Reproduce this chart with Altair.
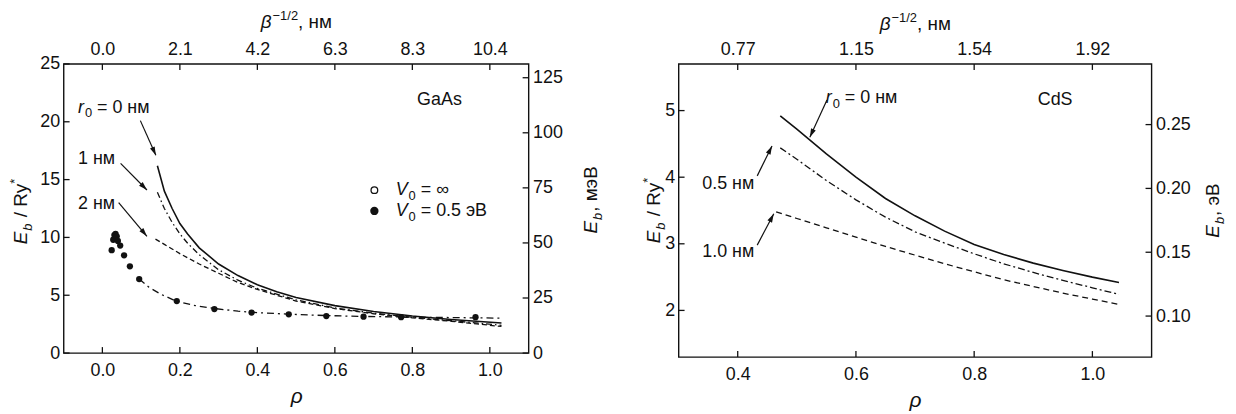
import math
import json
import altair as alt
import pandas as pd

FONT = "Liberation Sans"
INK = "#111111"
FS = 18
FS_T = 19
FS_S = 13

# ===================== data =====================
# GaAs panel (x = rho, y = E_b / Ry*)
gaas_r0_rho = [0.142, 0.16, 0.18, 0.20, 0.22, 0.25, 0.30, 0.35, 0.40, 0.45, 0.50, 0.60, 0.70, 0.80, 0.90, 1.03]
gaas_r0_eb = [16.2, 14.0, 12.5, 11.2, 10.3, 9.1, 7.7, 6.7, 5.9, 5.3, 4.8, 4.1, 3.6, 3.2, 2.9, 2.6]
gaas_r1_rho = [0.142, 0.16, 0.18, 0.20, 0.22, 0.25, 0.30, 0.35, 0.40, 0.50, 0.60, 0.70, 0.80, 0.90, 1.03]
gaas_r1_eb = [13.9, 12.5, 11.3, 10.3, 9.5, 8.5, 7.2, 6.3, 5.6, 4.6, 3.9, 3.45, 3.1, 2.8, 2.4]
gaas_r2_rho = [0.137, 0.16, 0.20, 0.25, 0.30, 0.35, 0.40, 0.50, 0.60, 0.70, 0.80, 0.90, 1.03]
gaas_r2_eb = [9.85, 9.4, 8.6, 7.7, 6.9, 6.1, 5.5, 4.5, 3.85, 3.4, 3.05, 2.75, 2.3]
gaas_dot_rho = [0.024, 0.028, 0.031, 0.034, 0.037, 0.040, 0.046, 0.056, 0.071, 0.095,
                0.192, 0.289, 0.385, 0.481, 0.578, 0.674, 0.771, 0.963]
gaas_dot_eb = [8.9, 9.8, 10.2, 10.3, 10.1, 9.7, 9.3, 8.45, 7.5, 6.4,
               4.5, 3.8, 3.5, 3.35, 3.2, 3.15, 3.1, 3.1]
gaas_fit_rho = [0.095, 0.12, 0.15, 0.19, 0.24, 0.29, 0.35, 0.40, 0.48, 0.58, 0.67, 0.77, 0.90, 1.03]
gaas_fit_eb = [6.4, 5.7, 5.1, 4.5, 4.1, 3.85, 3.62, 3.5, 3.36, 3.24, 3.17, 3.12, 3.07, 3.02]

# CdS panel
cds_r0_rho = [0.472, 0.50, 0.55, 0.60, 0.65, 0.70, 0.75, 0.80, 0.85, 0.90, 0.95, 1.00, 1.045]
cds_r0_eb = [4.92, 4.72, 4.35, 4.0, 3.68, 3.42, 3.19, 2.99, 2.84, 2.71, 2.60, 2.50, 2.42]
cds_r05_rho = [0.472, 0.50, 0.55, 0.60, 0.65, 0.70, 0.75, 0.80, 0.85, 0.90, 0.95, 1.00, 1.045]
cds_r05_eb = [4.44, 4.27, 3.95, 3.66, 3.40, 3.18, 3.01, 2.85, 2.70, 2.57, 2.45, 2.34, 2.24]
cds_r10_rho = [0.465, 0.50, 0.55, 0.60, 0.65, 0.70, 0.75, 0.80, 0.85, 0.90, 0.95, 1.00, 1.045]
cds_r10_eb = [3.48, 3.38, 3.24, 3.10, 2.96, 2.83, 2.70, 2.58, 2.46, 2.36, 2.26, 2.17, 2.09]

# ticks / labels
gaas_x_ticks = [0.0, 0.2, 0.4, 0.6, 0.8, 1.0]
gaas_top_labels = ["0.0", "2.1", "4.2", "6.3", "8.3", "10.4"]
gaas_y_ticks = [0, 5, 10, 15, 20, 25]
gaas_mev_ticks = [0, 25, 50, 75, 100, 125]
cds_x_ticks = [0.4, 0.6, 0.8, 1.0]
cds_top_labels = ["0.77", "1.15", "1.54", "1.92"]
cds_y_ticks = [2, 3, 4, 5]
cds_ev_ticks = [0.10, 0.15, 0.20, 0.25]

# ===================== helpers =====================
EM = {" ": 0.278, ".": 0.278, ",": 0.278, "/": 0.278, "=": 0.584, "−": 0.584,
      "*": 0.389, "∞": 0.713, "E": 0.667, "R": 0.722, "V": 0.667, "b": 0.556, "y": 0.5,
      "r": 0.333, "β": 0.575, "н": 0.545, "м": 0.667, "э": 0.51, "В": 0.667}


def tw(s, fs):
    return sum(EM.get(c, 0.556) for c in s) * fs


def lead(s):
    """split leading spaces (they are trimmed by the renderer) into an offset"""
    body = s.lstrip(" ")
    return body, len(s) - len(body)


ONE = pd.DataFrame({"k": [0]})
ARROW = "M0,0L0.3,1L-0.3,1Z"


def text_layers(pieces, enc, align, baseline, angle=0):
    out = []
    off = 0.0
    for txt, fs, it, dy in pieces:
        body, nsp = lead(txt)
        off += nsp * 0.278 * fs
        kw = dict(text=body, font=FONT, fontSize=fs, fontStyle="italic" if it else "normal",
                  align=align, baseline=baseline, color=INK)
        if angle:
            kw["angle"] = angle
        if off:
            kw["dx"] = round(off, 1)
        if dy:
            kw["dy"] = dy
        out.append(enc(alt.Chart(enc.data).mark_text(**kw)))
        off += tw(body, fs) + (1 if it else 0)
    return out


def build_panel(W, H, xdom, ydom, y2dom, xticks, yticks, y2ticks, yfmt, y2fmt, top_labels,
                top_first, curves, dots, texts, arrows, titles):
    xs = alt.Scale(domain=xdom, nice=False, zero=False)
    ys = alt.Scale(domain=ydom, nice=False, zero=False)
    xaxis = alt.Axis(values=xticks, format=".1f", title="ρ", titleFontStyle="italic",
                     titleFontSize=21, titleFontWeight="normal", titlePadding=6,
                     labelPadding=9, labelFlush=False)
    yaxis = alt.Axis(values=yticks, format=yfmt, title=None, labelPadding=4, labelFlush=False)

    def X(f):
        return alt.X(f, type="quantitative", scale=xs, axis=xaxis)

    def Y(f):
        return alt.Y(f, type="quantitative", scale=ys, axis=yaxis)

    layers = []
    for rho, eb, dash, sw in curves:
        d = pd.DataFrame({"x": rho, "y": eb})
        kw = dict(color=INK, strokeWidth=sw)
        if dash:
            kw["strokeDash"] = dash
        layers.append(alt.Chart(d).mark_line(**kw).encode(x=X("x"), y=Y("y")))
    for rho, eb, filled, size in dots:
        d = pd.DataFrame({"x": rho, "y": eb})
        layers.append(alt.Chart(d).mark_point(filled=filled, size=size, color=INK, opacity=1,
                                              strokeWidth=1.3).encode(x=X("x"), y=Y("y")))
    # inward ticks
    layers.append(alt.Chart(pd.DataFrame({"x": xticks})).mark_rule(color=INK, strokeWidth=1.3)
                  .encode(x=X("x"), y=alt.value(H), y2=alt.value(H - 6)))
    layers.append(alt.Chart(pd.DataFrame({"x": xticks})).mark_rule(color=INK, strokeWidth=1.3)
                  .encode(x=X("x"), y=alt.value(0), y2=alt.value(6)))
    layers.append(alt.Chart(pd.DataFrame({"y": yticks})).mark_rule(color=INK, strokeWidth=1.3)
                  .encode(y=Y("y"), x=alt.value(0), x2=alt.value(6)))
    # arrows
    kx = W / (xdom[1] - xdom[0])
    ky = H / (ydom[1] - ydom[0])
    for (x1, y1), (x2, y2) in arrows:
        d = pd.DataFrame({"x": [x1], "y": [y1], "x2": [x2], "y2": [y2]})
        layers.append(alt.Chart(d).mark_rule(color=INK, strokeWidth=1.2)
                      .encode(x=X("x"), y=Y("y"), x2="x2", y2="y2"))
        ddx = (x2 - x1) * kx
        ddy = -(y2 - y1) * ky
        ang = math.degrees(math.atan2(ddx, -ddy)) % 360
        layers.append(alt.Chart(pd.DataFrame({"x": [x2], "y": [y2]}))
                      .mark_point(shape=ARROW, size=300, filled=True, color=INK, opacity=1,
                                  angle=round(ang, 1), strokeWidth=0)
                      .encode(x=X("x"), y=Y("y")))

    # annotation texts (data anchored)
    class DataEnc:
        def __init__(self, ax, ay):
            self.data = pd.DataFrame({"x": [ax], "y": [ay]})

        def __call__(self, ch):
            return ch.encode(x=X("x"), y=Y("y"))

    class PixEnc:
        def __init__(self, px, py):
            self.data = ONE
            self.px, self.py = px, py

        def __call__(self, ch):
            return ch.encode(x=alt.value(self.px), y=alt.value(self.py))

    for (ax, ay), pieces, align, baseline in texts:
        layers += text_layers(pieces, DataEnc(ax, ay), align, baseline)

    # titles (pixel anchored)
    for pieces, (px, py), angle, centre in titles:
        L = sum(tw(t, f) + (1 if it else 0) for t, f, it, _ in pieces)
        if angle:
            py = py + L / 2
        elif centre:
            px = px - L / 2
        layers += text_layers(pieces, PixEnc(px, py), "left", "alphabetic", angle)

    main = alt.layer(*layers)

    # secondary (top / right) axes
    xs2 = alt.Scale(domain=xdom, nice=False, zero=False)
    ys2 = alt.Scale(domain=y2dom, nice=False, zero=False)
    expr = json.dumps(top_labels) + "[round((datum.value - %s) * 5)]" % top_first
    x2axis = alt.Axis(orient="top", values=xticks, labelExpr=expr, title=None,
                      labelPadding=6, labelFlush=False)
    y2axis = alt.Axis(orient="right", values=y2ticks, format=y2fmt, title=None,
                      labelPadding=4, labelFlush=False)
    inv = alt.Chart(pd.DataFrame({"x": xticks, "y": [y2dom[0]] * len(xticks)})).mark_point(
        opacity=0).encode(x=alt.X("x:Q", scale=xs2, axis=x2axis),
                          y=alt.Y("y:Q", scale=ys2, axis=y2axis))
    rt = alt.Chart(pd.DataFrame({"y": y2ticks})).mark_rule(color=INK, strokeWidth=1.3).encode(
        y=alt.Y("y:Q", scale=ys2, axis=y2axis), x=alt.value(W), x2=alt.value(W - 6))
    sec = alt.layer(inv, rt)
    return alt.layer(main, sec).resolve_scale(x="independent", y="independent").properties(
        width=W, height=H)


def eb_title(unit):
    return [("E", FS_T, True, 0), ("b", FS_S, True, 5), (unit, FS_T, False, 0)]


ry_title = [("E", FS_T, True, 0), ("b", FS_S, True, 5), (" / Ry", FS_T, False, 0),
            ("*", FS_S, False, -8)]
beta_title = [("β", FS_T, True, 0), ("−1/2", FS_S, False, -8), (", нм", FS_T, False, 0)]
r0_label = [("r", FS, True, 0), ("0", FS_S, False, 5), (" = 0 нм", FS, False, 0)]

W1, H1 = 468, 291
left = build_panel(
    W1, H1, [-0.1, 1.1], [0, 25], [0, 131.25], gaas_x_ticks, gaas_y_ticks, gaas_mev_ticks,
    "d", "d", gaas_top_labels, 0,
    curves=[(gaas_r0_rho, gaas_r0_eb, None, 1.6),
            (gaas_r1_rho, gaas_r1_eb, [6, 3, 1.5, 3], 1.3),
            (gaas_r2_rho, gaas_r2_eb, [5, 3], 1.3),
            (gaas_fit_rho, gaas_fit_eb, [7, 4, 2, 4], 1.3)],
    dots=[(gaas_dot_rho, gaas_dot_eb, True, 40),
          ([0.702], [14.09], False, 45),
          ([0.702], [12.29], True, 70)],
    texts=[((-0.063, 20.8), r0_label, "left", "alphabetic"),
           ((-0.063, 16.8), [("1 нм", FS, False, 0)], "left", "middle"),
           ((-0.063, 12.9), [("2 нм", FS, False, 0)], "left", "middle"),
           ((0.87, 21.9), [("GaAs", FS, False, 0)], "center", "middle"),
           ((0.757, 13.7), [("V", FS, True, 0), ("0", FS_S, False, 5), (" = ∞", FS, False, 0)], "left", "alphabetic"),
           ((0.757, 11.81), [("V", FS, True, 0), ("0", FS_S, False, 5), (" = 0.5 эВ", FS, False, 0)], "left", "alphabetic")],
    arrows=[((0.098, 20.1), (0.138, 17.1)),
            ((0.047, 16.4), (0.115, 14.1)),
            ((0.042, 13.0), (0.115, 10.1))],
    titles=[(ry_title, (-37, H1 / 2 + 3), 270, False),
            (eb_title(", мэВ"), (W1 + 69, 137), 270, False),
            (beta_title, (W1 / 2, -36), 0, True)],
)

W2, H2 = 476, 295
right = build_panel(
    W2, H2, [0.3, 1.1], [1.3, 5.7], [0.0679, 0.2975], cds_x_ticks, cds_y_ticks, cds_ev_ticks,
    "d", ".2f", cds_top_labels, 0.4,
    curves=[(cds_r0_rho, cds_r0_eb, None, 1.6),
            (cds_r05_rho, cds_r05_eb, [7, 3, 2, 3], 1.3),
            (cds_r10_rho, cds_r10_eb, [6, 4], 1.3)],
    dots=[],
    texts=[((0.549, 5.12), r0_label, "left", "alphabetic"),
           ((0.340, 3.90), [("0.5 нм", FS, False, 0)], "left", "middle"),
           ((0.340, 2.88), [("1.0 нм", FS, False, 0)], "left", "middle"),
           ((0.937, 5.16), [("CdS", FS, False, 0)], "center", "middle")],
    arrows=[((0.551, 5.16), (0.522, 4.60)),
            ((0.433, 4.02), (0.458, 4.47)),
            ((0.433, 2.98), (0.461, 3.45))],
    titles=[(ry_title, (-19, H2 / 2), 270, False),
            (eb_title(", эВ"), (W2 + 68, H2 / 2), 270, False),
            (beta_title, (W2 / 2, -34), 0, True)],
)

chart = alt.hconcat(left, right, spacing=35).properties(
    padding={"left": 0, "top": 0, "right": 0, "bottom": 0}
).configure_view(stroke=INK, strokeWidth=1.4).configure_axis(
    labelFont=FONT, labelFontSize=FS, labelColor=INK, titleFont=FONT, titleColor=INK,
    domain=False, ticks=False, grid=False
)

chart.save("out.html", embed_options={"renderer": "svg", "actions": False})
